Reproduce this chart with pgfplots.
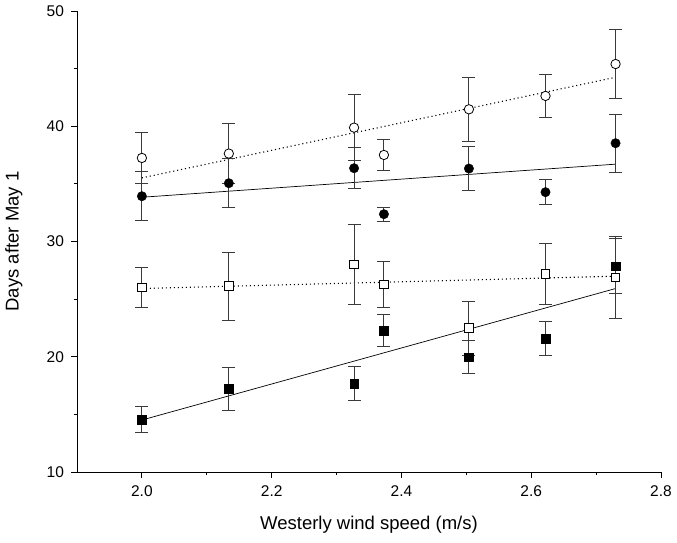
\documentclass[border=0pt]{standalone}
\usepackage{pgfplots}
\pgfplotsset{compat=1.18}
\usepackage{fontspec}
\setmainfont{Liberation Sans}
\definecolor{barcol}{HTML}{3A3A3A}
\pgfplotsset{
  ebar/.style={error bars/.cd, y dir=both, y explicit,
    error bar style={barcol, line width=1pt},
    error mark options={rotate=90, barcol, line width=1pt, mark size=6.5pt}}
}
\begin{document}
\begin{tikzpicture}[x=1pt,y=1pt]
\path[use as bounding box] (-77,-70) rectangle (600,472);
\begin{axis}[
  at={(0,0)}, anchor=origin,
  scale only axis, width=584pt, height=461pt,
  xmin=1.9, xmax=2.8, ymin=10, ymax=50,
  axis lines=left, axis line style={-, line width=0.8pt},
  tick align=outside,
  xtick={2.0,2.2,2.4,2.6,2.8}, minor x tick num=1,
  ytick={10,20,30,40,50}, minor y tick num=1,
  major tick length=5.5pt, minor tick length=3pt,
  tick style={line width=0.8pt, black},
  /pgf/number format/assume math mode=true,
  x tick label style={/pgf/number format/.cd, fixed, fixed zerofill, precision=1, /tikz/.cd, font=\fontsize{15.5}{18}\selectfont, yshift=-5pt},
  y tick label style={font=\fontsize{15.5}{18}\selectfont, xshift=-4pt},
  xlabel={Westerly wind speed (m/s)},
  ylabel={Days after May 1},
  xlabel style={at={(axis description cs:0.5,-0.1150)}, anchor=center, font=\fontsize{18.5}{22}\selectfont},
  ylabel style={at={(axis description cs:-0.1080,0.5)}, anchor=center, font=\fontsize{18.5}{22}\selectfont},
  clip=false,
]
% regression lines
\addplot[black, line width=1.1pt, dash pattern=on 1.1pt off 2.9pt] coordinates {(2.0,35.52) (2.73,44.25)};
\addplot[black, line width=0.7pt] coordinates {(2.0,33.84) (2.73,36.71)};
\addplot[black, line width=1.1pt, dash pattern=on 1.1pt off 2.9pt] coordinates {(2.0,25.92) (2.73,26.99)};
\addplot[black, line width=0.7pt] coordinates {(2.0,14.51) (2.73,25.92)};
% open squares
\addplot[only marks, mark=square*, mark size=4.3pt, mark options={fill=white, draw=black, line width=0.8pt}, ebar]
 coordinates {
 (2.000,26.01) +- (0,1.75)
 (2.134,26.13) +- (0,2.95)
 (2.327,28.00) +- (0,3.48)
 (2.373,26.27) +- (0,2.00)
 (2.504,22.49) +- (0,2.34)
 (2.622,27.17) +- (0,2.63)
 (2.730,26.88) +- (0,3.55)
 };
% filled squares
\addplot[only marks, mark=square*, mark size=4.3pt, mark options={fill=black, draw=black}, ebar]
 coordinates {
 (2.000,14.54) +- (0,1.15)
 (2.134,17.23) +- (0,1.86)
 (2.327,17.66) +- (0,1.48)
 (2.373,22.25) +- (0,1.38)
 (2.504,19.97) +- (0,1.45)
 (2.622,21.59) +- (0,1.45)
 (2.730,27.86) +- (0,2.40)
 };
% open circles
\addplot[only marks, mark=*, mark size=4.7pt, mark options={fill=white, draw=black, line width=0.8pt}, ebar]
 coordinates {
 (2.000,37.25) +- (0,2.20)
 (2.134,37.63) +- (0,2.60)
 (2.327,39.88) +- (0,2.89)
 (2.373,37.51) +- (0,1.33)
 (2.504,41.47) +- (0,2.75)
 (2.622,42.63) +- (0,1.88)
 (2.730,45.40) +- (0,2.98)
 };
% filled circles
\addplot[only marks, mark=*, mark size=4.7pt, mark options={fill=black, draw=black}, ebar]
 coordinates {
 (2.000,33.93) +- (0,2.12)
 (2.134,35.06) +- (0,2.10)
 (2.327,36.36) +- (0,1.80)
 (2.373,32.37) +- (0,0.60)
 (2.504,36.33) +- (0,1.90)
 (2.622,34.28) +- (0,1.07)
 (2.730,38.53) +- (0,2.50)
 };
\end{axis}
\end{tikzpicture}
\end{document}
